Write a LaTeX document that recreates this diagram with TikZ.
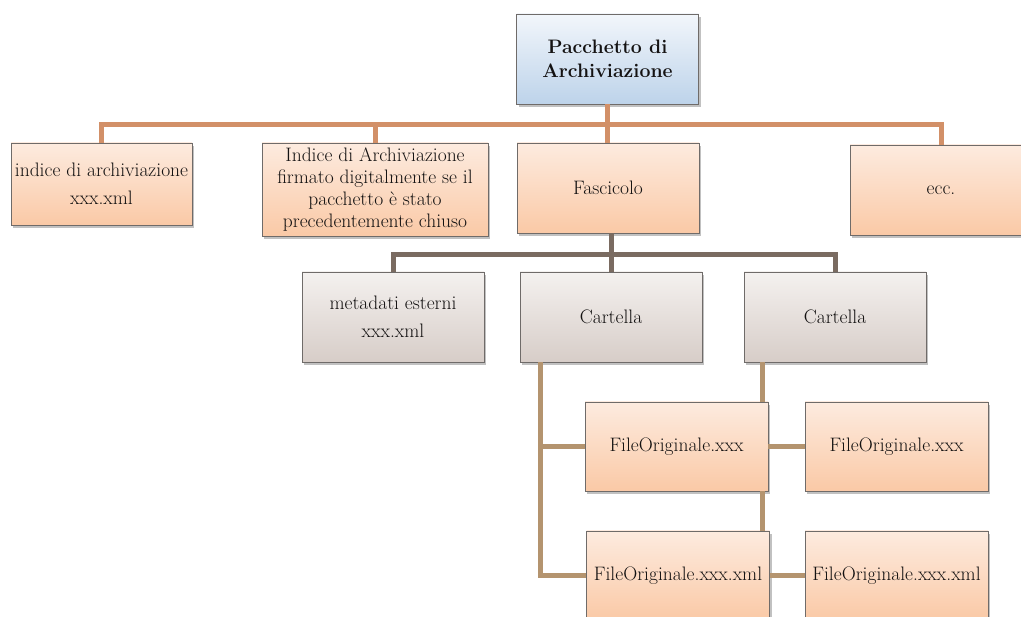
\documentclass[tikz,border=0pt]{standalone}
\usetikzlibrary{shadows}

\definecolor{boxline}{HTML}{6F6B69}
\definecolor{txt}{HTML}{141212}
\definecolor{orangetop}{HTML}{FDEBDF}
\definecolor{orangebot}{HTML}{FAC9A6}
\definecolor{greytop}{HTML}{F4F1EF}
\definecolor{greybot}{HTML}{D7CDC8}
\definecolor{bluetop}{HTML}{F2F6FB}
\definecolor{bluebot}{HTML}{BDD3EA}
\definecolor{linkorange}{HTML}{D29068}
\definecolor{linkdark}{HTML}{7A6B61}
\definecolor{linktan}{HTML}{B4946F}

\tikzset{
	box/.style={draw=boxline, line width=0.9pt, minimum width=182pt, minimum height=90pt,
		inner sep=1pt, align=center, text=txt, font=\fontsize{19.5}{28}\selectfont,
		drop shadow={shadow xshift=2pt, shadow yshift=-3pt, opacity=0.35, fill=black!70}},
	orangebox/.style={box, top color=orangetop, bottom color=orangebot},
	greybox/.style={box, top color=greytop, bottom color=greybot},
	bluebox/.style={box, top color=bluetop, bottom color=bluebot},
	link/.style={line width=5pt}
}

\begin{document}
\begin{tikzpicture}[x=1pt, y=-1pt]

		\useasboundingbox (0,0) rectangle (1021,617);
		\clip (0,0) rectangle (1021,617);

		% root
		\node[bluebox, font=\bfseries\fontsize{19.5}{24}\selectfont] (pack) at (607.5,59) {Pacchetto di\\Archiviazione};

		% first level
		\node[orangebox, minimum width=181pt, minimum height=82pt] (idx) at (101.5,184) {indice di archiviazione\\xxx.xml};
		\node[orangebox, minimum width=226pt, minimum height=93pt, font=\fontsize{19.5}{22}\selectfont] (idxf) at (375,189.5)
			{Indice di Archiviazione\\firmato digitalmente se il\\pacchetto \`e stato\\precedentemente chiuso};
		\node[orangebox] (fasc) at (608,188) {Fascicolo};
		\node[orangebox] (ecc) at (941,190) {ecc.};

		% second level
		\node[greybox] (meta) at (393,317) {metadati esterni\\xxx.xml};
		\node[greybox] (cart1) at (611,317) {Cartella};
		\node[greybox] (cart2) at (835,317) {Cartella};

		% files
		\node[orangebox, minimum width=183pt, minimum height=89pt] (fo1) at (676.5,446.5) {FileOriginale.xxx};
		\node[orangebox, minimum width=183pt, minimum height=89pt] (fo2) at (896.5,446.5) {FileOriginale.xxx};
		\node[orangebox, minimum width=183pt, minimum height=89pt] (fx1) at (678,575.5) {FileOriginale.xxx.xml};
		\node[orangebox, minimum width=183pt, minimum height=89pt] (fx2) at (896.5,575.5) {FileOriginale.xxx.xml};

		% connectors
		\coordinate (bar1) at (607,125);
		\draw[link, linkorange] (idx.north) |- (bar1) -| (ecc.north);
		\draw[link, linkorange] (idxf.north) -- (idxf.north |- bar1);
		\draw[link, linkorange] (pack.south) -- (pack.south |- fasc.north);

		\coordinate (bar2) at (610,255);
		\draw[link, linkdark] (meta.north) |- (bar2) -| (cart2.north);
		\draw[link, linkdark] (cart1.north) -- (cart1.north |- fasc.south);

		\coordinate (c1down) at ([xshift=-71pt]cart1.south);
		\coordinate (c2down) at ([xshift=-73pt]cart2.south);
		\draw[link, linktan] (c1down) |- (fx1.west);
		\draw[link, linktan] (c1down |- fo1.west) -- (fo1.west);
		\draw[link, linktan] (c2down) -- (c2down |- fo1.north);
		\draw[link, linktan] (fo1.south -| c2down) -- (fx1.north -| c2down);
		\draw[link, linktan] (fo1.east) -- (fo2.west);
		\draw[link, linktan] (fx1.east) -- (fx2.west);

\end{tikzpicture}
\end{document}
